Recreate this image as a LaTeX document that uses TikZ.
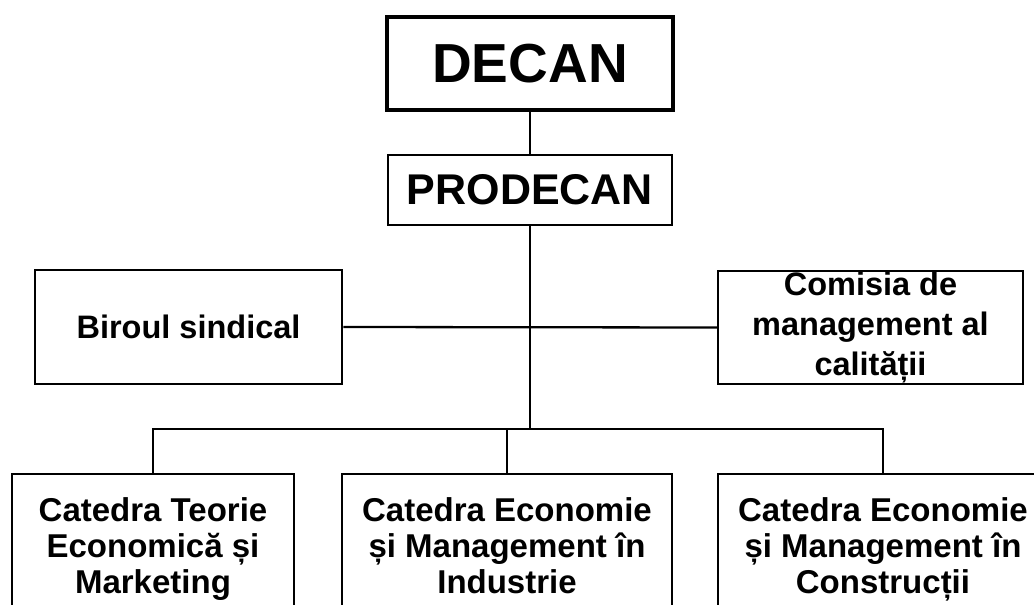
\documentclass[tikz,border=0pt]{standalone}
\usepackage{fontspec}
\setmainfont{Liberation Sans}
\begin{document}
\begin{tikzpicture}[x=1pt,y=-1pt,
  box/.style={draw, line width=2.5pt, rectangle, inner sep=0pt, align=center,
    font=\bfseries\fontsize{32.5}{40}\selectfont},
  catbox/.style={box, minimum height=151pt, font=\bfseries\fontsize{33}{36}\selectfont},
  conn/.style={line width=2.3pt}]
\useasboundingbox (0,0) rectangle (1034,605);
\clip (0,0) rectangle (1034,605);
\node[box, line width=4pt, minimum width=286pt, minimum height=93pt,
  font=\bfseries\fontsize{55}{60}\selectfont] (decan) at (530,63.5) {DECAN};
\node[box, minimum width=284pt, minimum height=70pt,
  font=\bfseries\fontsize{43}{46}\selectfont] (prodecan) at (530,190) {PRODECAN};
\node[box, minimum width=307pt, minimum height=114pt] (biroul) at (188.5,327) {Biroul sindical};
\node[box, minimum width=305pt, minimum height=113pt] (comisia) at (870.5,327.5) {Comisia de\\management al\\calității\vphantom{g}};
\node[catbox, minimum width=282pt] (cat1) at (153,549.5) {Catedra Teorie\\Economică și\\Marketing\vphantom{g}};
\node[catbox, minimum width=330pt] (cat2) at (507,549.5) {Catedra Economie\\și Management în\\Industrie\vphantom{g}};
\node[catbox, minimum width=330pt] (cat3) at (883,549.5) {Catedra Economie\\și Management în\\Construcții\vphantom{g}};
\coordinate (bus) at (530,429);
\draw[conn] (decan.south) -- (prodecan.north);
\draw[conn] (prodecan.south) -- (bus);
\draw[conn] (biroul.east) -- (comisia.west);
\draw[conn] (cat1.north) |- (bus) -| (cat3.north);
\draw[conn] (cat2.north) -- (cat2.north |- bus);
\end{tikzpicture}
\end{document}
